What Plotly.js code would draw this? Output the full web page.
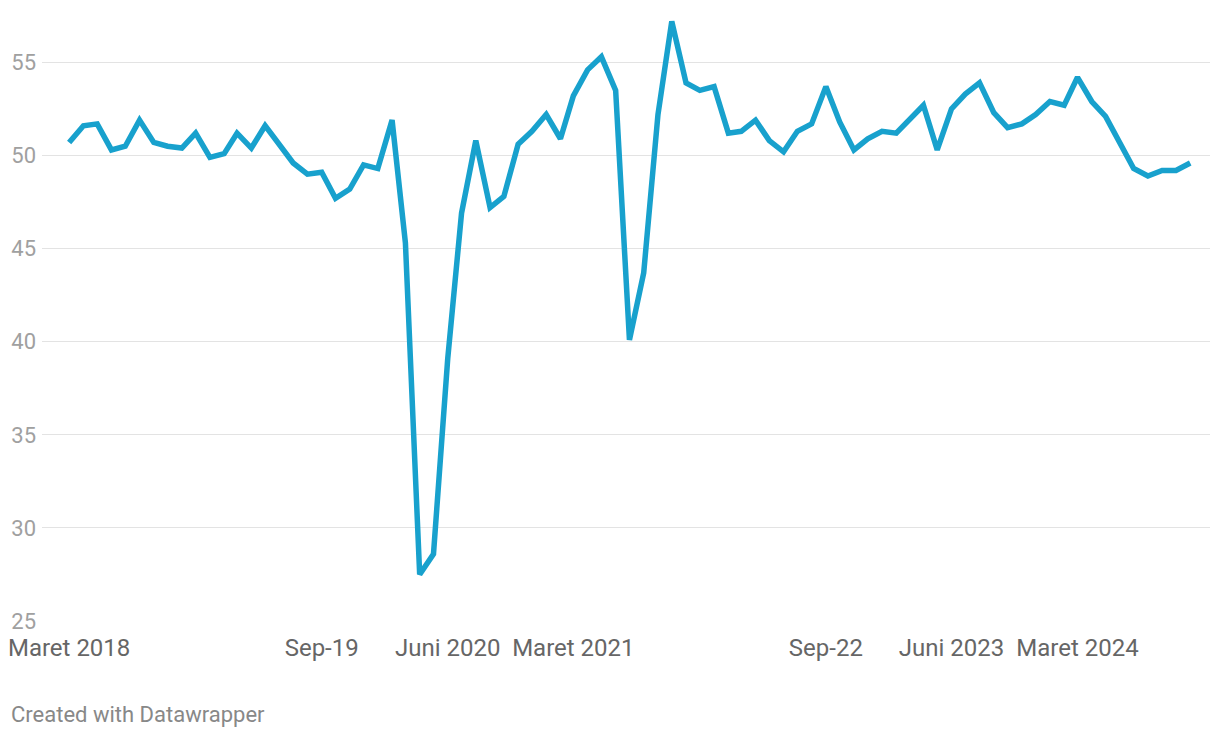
<!DOCTYPE html>
<html>
<head>
<meta charset="utf-8">
<script src="https://cdn.plot.ly/plotly-3.0.1.min.js"></script>
<style>
html,body{margin:0;padding:0;background:#fff;}
#chart{width:1220px;height:738px;}
</style>
</head>
<body>
<div id="chart"></div>
<script>
// Monthly index values, March 2018 – November 2024
const startYear = 2018, startMonth = 3;
const values = [
  50.7,51.6,51.7,50.3,50.5,51.9,50.7,50.5,50.4,51.2,
  49.9,50.1,51.2,50.4,51.6,50.6,49.6,49.0,49.1,47.7,
  48.2,49.5,49.3,51.9,45.3,27.5,28.6,39.1,46.9,50.8,
  47.2,47.8,50.6,51.3,52.2,50.9,53.2,54.6,55.3,53.5,
  40.1,43.7,52.2,57.2,53.9,53.5,53.7,51.2,51.3,51.9,
  50.8,50.2,51.3,51.7,53.7,51.8,50.3,50.9,51.3,51.2,
  51.9,52.7,50.3,52.5,53.3,53.9,52.3,51.5,51.7,52.2,
  52.9,52.7,54.2,52.9,52.1,50.7,49.3,48.9,49.2,49.2,49.6
];
const months = values.map((_, i) => {
  const m = startMonth - 1 + i;
  const y = startYear + Math.floor(m / 12);
  const mm = (m % 12) + 1;
  return y + '-' + String(mm).padStart(2, '0') + '-01';
});
const tickVals = ['2018-03-01','2019-09-01','2020-06-01','2021-03-01','2022-09-01','2023-06-01','2024-03-01'];
const tickText = ['Maret 2018','Sep-19','Juni 2020','Maret 2021','Sep-22','Juni 2023','Maret 2024'];
const yTicks = [25,30,35,40,45,50,55];

const trace = {
  x: months, y: values, type: 'scatter', mode: 'lines',
  line: {color: '#18a1cd', width: 5.5, shape: 'linear'},
  hoverinfo: 'skip', cliponaxis: false
};

const layout = {
  width: 1220, height: 738,
  margin: {l: 42, r: 10, t: 14, b: 117},
  paper_bgcolor: '#ffffff', plot_bgcolor: '#ffffff',
  showlegend: false,
  font: {family: 'Roboto, sans-serif'},
  xaxis: {
    type: 'date',
    range: ['2018-01-01', '2024-12-14'],
    tickmode: 'array', tickvals: tickVals, ticktext: tickText,
    showgrid: false, zeroline: false, showline: false,
    ticks: 'outside', ticklen: 5, tickcolor: 'rgba(0,0,0,0)',
    tickfont: {family: 'Roboto, sans-serif', size: 24, color: '#666666'},
    fixedrange: true
  },
  yaxis: {
    range: [25, 57.6],
    tickmode: 'array', tickvals: yTicks, ticktext: yTicks.map(String),
    showgrid: true, gridcolor: '#e3e3e3', gridwidth: 1,
    zeroline: false, showline: false,
    ticks: '', ticklabelstandoff: 5,
    tickfont: {family: 'Roboto, sans-serif', size: 22, color: '#a0a0a0'},
    fixedrange: true
  },
  annotations: [{
    text: 'Created with Datawrapper',
    xref: 'paper', yref: 'paper',
    x: -42/1168, y: -93/607,
    xanchor: 'left', yanchor: 'middle',
    xshift: 9,
    showarrow: false,
    font: {family: 'Roboto, sans-serif', size: 22, color: '#888888'}
  }]
};

Plotly.newPlot('chart', [trace], layout, {displayModeBar: false, staticPlot: true});
</script>
</body>
</html>
